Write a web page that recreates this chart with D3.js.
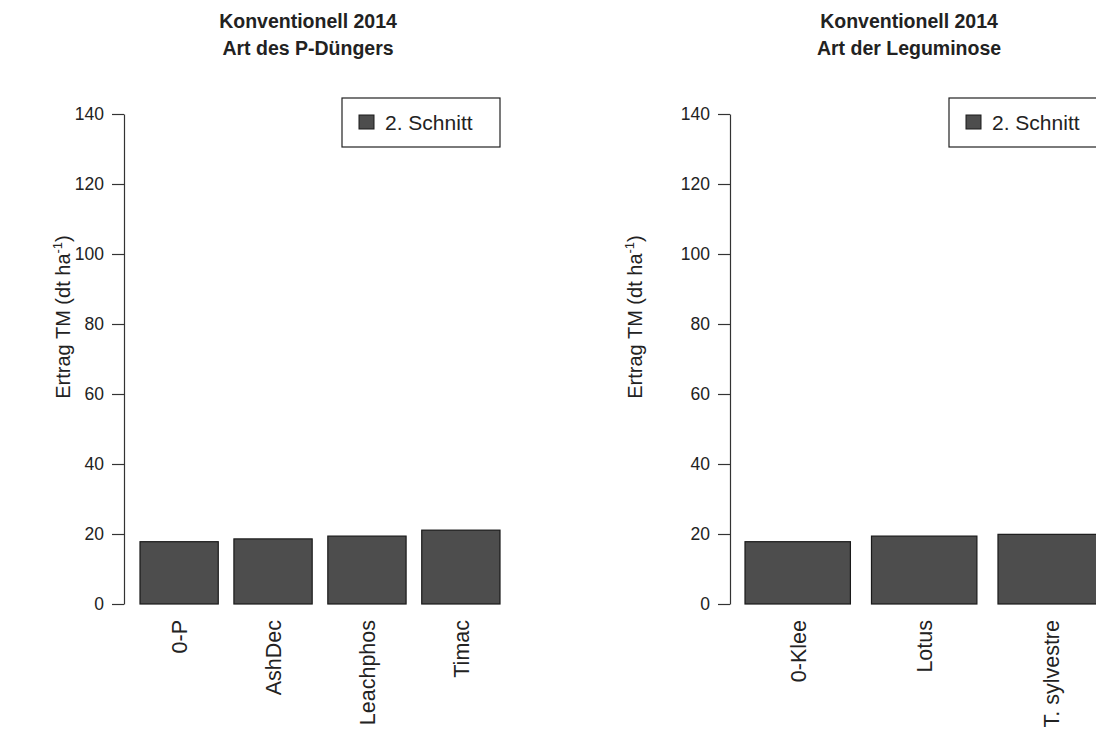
<!DOCTYPE html>
<html>
<head>
<meta charset="utf-8">
<script src="https://cdn.jsdelivr.net/npm/d3@7/dist/d3.min.js"></script>
<style>
  html, body { margin: 0; padding: 0; background: #fff; }
  svg { display: block; }
  text { font-family: "Liberation Sans", Arial, sans-serif; fill: #222; }
</style>
</head>
<body>
<svg id="chart" width="1096" height="742"></svg>
<script>
// ---- data ----
const leftCategories = ["0-P", "AshDec", "Leachphos", "Timac"];
const leftValues = [17.8, 18.6, 19.4, 21.1];
const leftTitle = ["Konventionell 2014", "Art des P-Düngers"];

const rightCategories = ["0-Klee", "Lotus", "T. sylvestre"];
const rightValues = [17.8, 19.4, 19.9];
const rightTitle = ["Konventionell 2014", "Art der Leguminose"];

const yTicks = [0, 20, 40, 60, 80, 100, 120, 140];
const legendLabel = "2. Schnitt";
const yLabelMain = "Ertrag TM (dt ha";
const yLabelSup = "-1";

// ---- layout ----
const svg = d3.select("#chart");
const yScale = d3.scaleLinear().domain([0, 140]).range([604, 114]);
const barFill = "#4d4d4d";

const panels = [
  { cats: leftCategories, vals: leftValues, title: leftTitle,
    axisX: 124, barRange: [140, 500], titleX: 308, yLabelX: 70,
    legend: { x: 342, y: 98, w: 158, h: 49 } },
  { cats: rightCategories, vals: rightValues, title: rightTitle,
    axisX: 730, barRange: [745, 1103.4], titleX: 909, yLabelX: 642,
    legend: { x: 949, y: 98, w: 158, h: 49 } }
];

panels.forEach(p => {
  const g = svg.append("g");
  const x = d3.scaleBand().domain(p.cats).range(p.barRange)
    .paddingInner(1 / 6).paddingOuter(0);

  // title
  p.title.forEach((t, i) => {
    g.append("text")
      .attr("x", p.titleX).attr("y", 28 + i * 27)
      .attr("text-anchor", "middle")
      .attr("font-size", 19.5).attr("font-weight", "bold")
      .text(t);
  });

  // bars
  g.selectAll("rect.bar").data(p.cats.map((c, i) => ({ c, v: p.vals[i] })))
    .enter().append("rect").attr("class", "bar")
    .attr("x", d => x(d.c))
    .attr("y", d => yScale(d.v))
    .attr("width", x.bandwidth())
    .attr("height", d => yScale(0) - yScale(d.v))
    .attr("fill", barFill)
    .attr("stroke", "#1a1a1a").attr("stroke-width", 1.2);

  // y axis
  const ax = g.append("g").attr("transform", `translate(${p.axisX},0)`)
    .call(d3.axisLeft(yScale).tickValues(yTicks).tickSize(12).tickSizeOuter(0).tickPadding(8));
  ax.select(".domain").attr("stroke", "#333").attr("stroke-width", 1.2);
  ax.selectAll(".tick line").attr("stroke", "#333").attr("stroke-width", 1.2);
  ax.selectAll(".tick text").attr("font-size", 17.5)
    .attr("font-family", "Liberation Sans, Arial, sans-serif").attr("fill", "#222");

  // y label
  const yl = g.append("text")
    .attr("transform", `translate(${p.yLabelX},${yScale(82)}) rotate(-90)`)
    .attr("text-anchor", "middle")
    .attr("font-size", 20);
  yl.append("tspan").text(yLabelMain);
  yl.append("tspan").attr("font-size", 13).attr("dy", -8).text(yLabelSup);
  yl.append("tspan").attr("dy", 8).text(")");

  // category labels
  p.cats.forEach(c => {
    g.append("text")
      .attr("transform", `translate(${x(c) + x.bandwidth() / 2 + 8},620) rotate(-90)`)
      .attr("text-anchor", "end")
      .attr("font-size", 21.5)
      .text(c);
  });

  // legend
  const L = p.legend;
  g.append("rect").attr("x", L.x).attr("y", L.y).attr("width", L.w).attr("height", L.h)
    .attr("fill", "#fff").attr("stroke", "#222").attr("stroke-width", 1.2);
  g.append("rect").attr("x", L.x + 17).attr("y", L.y + 17).attr("width", 15).attr("height", 14)
    .attr("fill", barFill).attr("stroke", "#1a1a1a").attr("stroke-width", 1);
  g.append("text").attr("x", L.x + 43).attr("y", L.y + 32)
    .attr("font-size", 21).text(legendLabel);
});
</script>
</body>
</html>
